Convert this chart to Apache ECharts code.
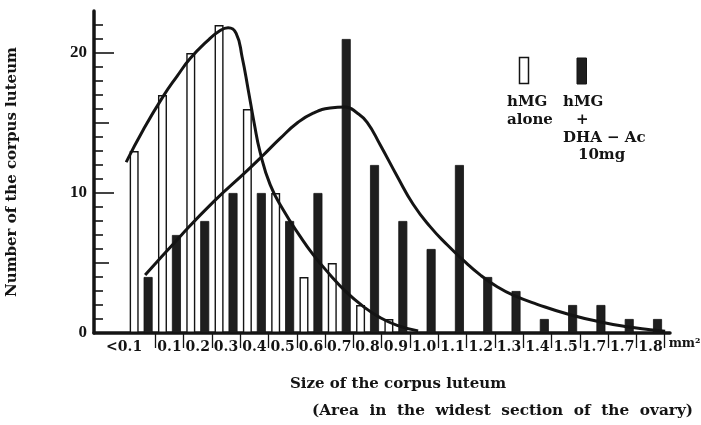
<!DOCTYPE html>
<html>
<head>
<meta charset="utf-8">
<script src="https://cdn.jsdelivr.net/npm/echarts@6/dist/echarts.min.js"></script>
<style>
  html, body { margin: 0; padding: 0; background: #ffffff; }
  #chart { width: 701px; height: 425px; }
</style>
</head>
<body>
<div id="chart"></div>
<script>
// Size classes of the corpus luteum (mm²)
const categories = ['<0.1', '0.1', '0.2', '0.3', '0.4', '0.5', '0.6', '0.7', '0.8', '0.9',
                    '1.0', '1.1', '1.2', '1.3', '1.4', '1.5', '1.7', '1.7', '1.8'];

// Number of corpora lutea per size class
const hmgAlone = [13, 17, 20, 22, 16, 10, 4, 5, 2, 1, null, null, null, null, null, null, null, null, null];
const hmgDhaAc = [4, 7, 8, 10, 10, 8, 10, 21, 12, 8, 6, 12, 4, 3, 1, 2, 2, 1, 1];

// Fitted distribution curves: [position in size-class units, count]
const curveAlone = [
  [-0.53, 12.2], [0.071, 14.5], [0.777, 16.9], [1.272, 18.35], [1.731, 19.6], [2.332, 20.85],
  [2.792, 21.6], [3.074, 21.8], [3.357, 21.4], [3.569, 19.7], [3.781, 17.4], [3.993, 15.0],
  [4.205, 12.9], [4.558, 10.6], [5.018, 8.8], [5.618, 6.9], [6.078, 5.6], [6.678, 4.15],
  [7.208, 3.0], [7.845, 1.9], [8.445, 1.1], [9.046, 0.55], [9.788, 0.15]
];
const curveDhaAc = [
  [0.141, 4.14], [1.378, 6.9], [2.544, 9.35], [3.746, 11.6], [4.311, 12.7], [4.912, 13.9],
  [5.512, 15.0], [6.078, 15.7], [6.678, 16.07], [7.208, 16.14], [7.633, 15.72], [7.986, 15.05],
  [8.445, 13.45], [9.046, 11.2], [9.611, 9.2], [10.212, 7.6], [10.813, 6.3], [11.378, 5.2],
  [11.979, 4.15], [12.58, 3.3], [13.145, 2.7], [13.993, 2.05], [15.159, 1.3], [16.325, 0.75],
  [17.173, 0.45], [17.986, 0.24], [18.516, 0.12]
];

// Y axis ticks
const yLabelValues = [0, 10, 20];
const yMidTicks = [5, 15];
const yMinorTicks = [1, 2, 3, 4, 6, 7, 8, 9, 11, 12, 13, 14, 16, 17, 18, 19, 21, 22];
const yMax = 23;

const INK = '#141414';
const SERIF = '"DejaVu Serif", "Liberation Serif", serif';

// Layout
const plotTop = 11, plotBottom = 333;
const axisLeft = 94, axisRight = 670;
const barsLeft = 127, barsWidth = 537.7;

const chart = echarts.init(document.getElementById('chart'), null, { renderer: 'canvas' });

const hiddenY = (gridIndex) => ({
  type: 'value', gridIndex, min: 0, max: yMax, position: 'left',
  axisLine: { show: false }, axisTick: { show: false }, axisLabel: { show: false }, splitLine: { show: false }
});

const curveStyle = {
  type: 'line', xAxisIndex: 2, yAxisIndex: 3,
  smooth: 0.5, symbol: 'none', clip: false,
  lineStyle: { color: INK, width: 3 }
};

chart.setOption({
  animation: false,
  backgroundColor: '#ffffff',
  grid: [
    { left: axisLeft, width: axisRight - axisLeft, top: plotTop, height: plotBottom - plotTop, outerBoundsMode: 'none' },
    { left: barsLeft, width: barsWidth, top: plotTop, height: plotBottom - plotTop, outerBoundsMode: 'none' }
  ],
  xAxis: [
    {
      type: 'value', gridIndex: 0, min: 0, max: 1,
      axisLine: { show: true, lineStyle: { color: INK, width: 3.5 } },
      axisTick: { show: false }, axisLabel: { show: false }, splitLine: { show: false }
    },
    {
      type: 'category', gridIndex: 1, data: categories, boundaryGap: true, offset: 5,
      axisLine: { show: false },
      axisTick: {
        show: true, length: 15, lineStyle: { color: INK, width: 1.3 },
        interval: (index) => index > 0
      },
      axisLabel: {
        interval: 0, margin: 2, color: INK,
        fontFamily: SERIF, fontWeight: 'bold', fontSize: 14,
        formatter: (value, index) => index === 0 ? '{lead|' + value + '}' : value,
        rich: { lead: { fontFamily: SERIF, fontWeight: 'bold', fontSize: 14, color: INK, padding: [0, 34, 0, 0] } }
      },
      name: 'mm²', nameLocation: 'end', nameGap: 3,
      nameTextStyle: { color: INK, fontFamily: SERIF, fontWeight: 'bold', fontSize: 12.5, align: 'left', verticalAlign: 'top', padding: [4, 0, 0, 0] },
      splitLine: { show: false }
    },
    {
      type: 'value', gridIndex: 1, min: -0.5, max: categories.length - 0.5, show: false
    }
  ],
  yAxis: [
    {
      type: 'value', gridIndex: 0, min: 0, max: yMax, position: 'left',
      axisLine: { show: true, lineStyle: { color: INK, width: 3.5 } },
      axisTick: { show: true, inside: true, length: 9, customValues: yMinorTicks, lineStyle: { color: INK, width: 1.6 } },
      axisLabel: { customValues: yLabelValues, margin: 7, color: INK, fontFamily: '"Liberation Serif", serif', fontWeight: 'bold', fontSize: 17 },
      splitLine: { show: false },
      name: 'Number of the corpus luteum', nameLocation: 'middle', nameGap: 74, nameRotate: 90,
      nameTextStyle: { color: INK, fontFamily: SERIF, fontWeight: 'bold', fontSize: 15 }
    },
    {
      type: 'value', gridIndex: 0, min: 0, max: yMax, position: 'left',
      axisLine: { show: false },
      axisTick: { show: true, inside: true, length: 15, customValues: yMidTicks, lineStyle: { color: INK, width: 1.6 } },
      axisLabel: { show: false }, splitLine: { show: false }
    },
    {
      type: 'value', gridIndex: 0, min: 0, max: yMax, position: 'left',
      axisLine: { show: false },
      axisTick: { show: true, inside: true, length: 20, customValues: yLabelValues.filter(v => v > 0), lineStyle: { color: INK, width: 1.6 } },
      axisLabel: { show: false }, splitLine: { show: false }
    },
    hiddenY(1)
  ],
  series: [
    {
      name: 'hMG alone', type: 'bar', xAxisIndex: 1, yAxisIndex: 3,
      data: hmgAlone, barWidth: 9, barGap: '55%',
      itemStyle: { color: '#ffffff', borderColor: INK, borderWidth: 1.4 }
    },
    {
      name: 'hMG + DHA-Ac 10mg', type: 'bar', xAxisIndex: 1, yAxisIndex: 3,
      data: hmgDhaAc, barWidth: 9,
      itemStyle: { color: '#1e1e1e', borderColor: INK, borderWidth: 0.8 }
    },
    Object.assign({ name: 'hMG alone fit', data: curveAlone }, curveStyle),
    Object.assign({ name: 'hMG + DHA-Ac fit', data: curveDhaAc }, curveStyle)
  ],
  graphic: [
    // x axis titles
    { type: 'text', left: 290, top: 377, style: { text: 'Size of the corpus luteum', fill: INK, font: 'bold 15px ' + SERIF } },
    { type: 'text', left: 312, top: 404, style: { text: '(Area  in  the  widest  section  of  the  ovary)', fill: INK, font: 'bold 15.3px ' + SERIF } },
    // legend swatches
    { type: 'rect', shape: { x: 519.5, y: 57.5, width: 9, height: 26 }, style: { fill: '#ffffff', stroke: INK, lineWidth: 1.5 } },
    { type: 'rect', shape: { x: 577, y: 58, width: 9.5, height: 26 }, style: { fill: '#1e1e1e', stroke: INK, lineWidth: 1 } },
    // legend labels
    { type: 'text', left: 507, top: 93, style: { text: 'hMG\nalone', fill: INK, font: 'bold 15px ' + SERIF, lineHeight: 18 } },
    { type: 'text', left: 563, top: 93, style: { text: 'hMG', fill: INK, font: 'bold 15px ' + SERIF, lineHeight: 18 } },
    { type: 'text', left: 576, top: 111, style: { text: '+', fill: INK, font: 'bold 15px ' + SERIF, lineHeight: 18 } },
    { type: 'text', left: 563, top: 129, style: { text: 'DHA − Ac', fill: INK, font: 'bold 15px ' + SERIF, lineHeight: 18 } },
    { type: 'text', left: 578, top: 146, style: { text: '10mg', fill: INK, font: 'bold 15px ' + SERIF, lineHeight: 18 } }
  ]
});
</script>
</body>
</html>
